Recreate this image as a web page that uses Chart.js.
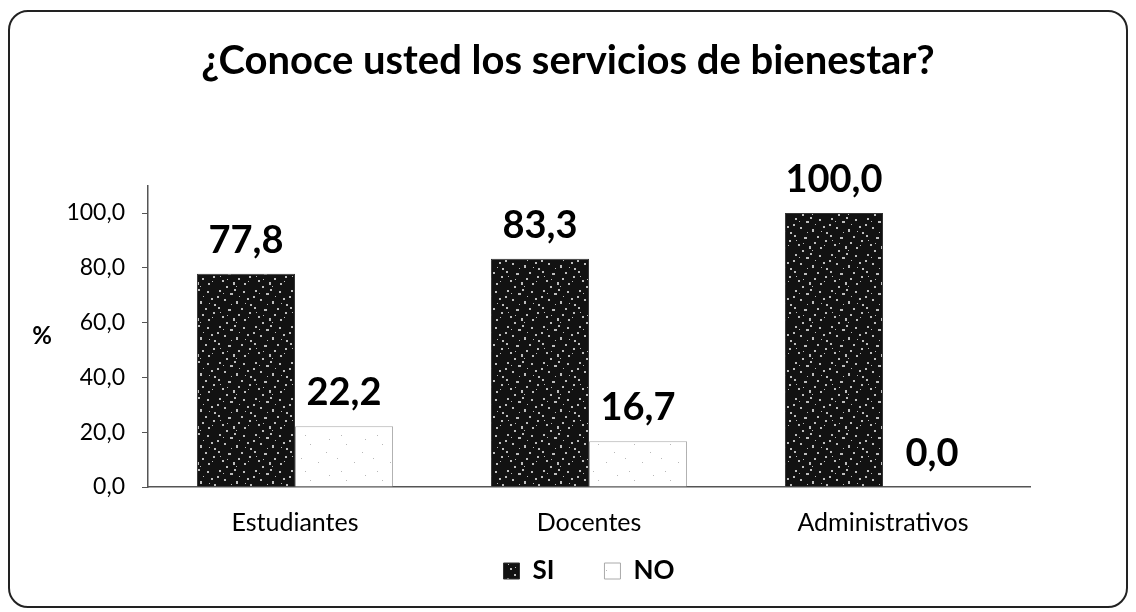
<!DOCTYPE html>
<html>
<head>
<meta charset="utf-8">
<script src="https://cdn.jsdelivr.net/npm/chart.js@4.4.1/dist/chart.umd.min.js"></script>
<style>
  html, body { margin: 0; padding: 0; background: #fff; }
  #wrap { position: relative; width: 1136px; height: 612px; }
  #marco {
    position: absolute; left: 8px; top: 10px; width: 1120px; height: 598px;
    border: 2px solid #222; border-radius: 20px; box-sizing: border-box;
  }
  #grafico { position: absolute; left: 0; top: 0; }
</style>
</head>
<body>
<div id="wrap">
  <div id="marco"></div>
  <canvas id="grafico" width="1136" height="612"></canvas>
</div>
<script>
// datos
const categorias = ['Estudiantes', 'Docentes', 'Administrativos'];
const valoresSI = [77.8, 83.3, 100.0];
const valoresNO = [22.2, 16.7, 0.0];
const ticksY = [0, 20, 40, 60, 80, 100];

const FUENTE = 'Lato, "Open Sans", sans-serif';

function fmt(v) {
  return v.toFixed(1).replace('.', ',');
}

// textura punteada de las barras (puntos fijos, solo estilo)
function crearTextura(fondo, punto, puntos) {
  const c = document.createElement('canvas');
  c.width = 36; c.height = 36;
  const ctx = c.getContext('2d');
  ctx.fillStyle = fondo;
  ctx.fillRect(0, 0, 36, 36);
  ctx.fillStyle = punto;
  puntos.forEach(p => ctx.fillRect(p[0], p[1], p[2] || 2, p[3] || 2));
  return ctx.createPattern(c, 'repeat');
}

const puntosOscuros = [
  [3, 2], [14, 5, 3, 2], [27, 3], [8, 11], [20, 13, 2, 3], [31, 10],
  [2, 19], [12, 21, 3, 2], [25, 20], [33, 24], [6, 28], [17, 30, 2, 3],
  [28, 31], [10, 34], [22, 26], [1, 8], [34, 16], [18, 1],
  [7, 5, 1, 1], [23, 8, 1, 1], [15, 16, 1, 1], [29, 15, 1, 1], [4, 24, 1, 1],
  [20, 34, 1, 1], [32, 29, 1, 1], [11, 27, 1, 1]
];
const puntosClaros = [[5, 7, 1, 1], [22, 12, 1, 1], [13, 26, 1, 1], [30, 30, 1, 1], [2, 20, 1, 1], [17, 3, 1, 1]];

const texturaSI = crearTextura('#121212', '#bdbdbd', puntosOscuros);
const texturaNO = crearTextura('#ffffff', '#b8b8b8', puntosClaros);

// etiquetas de valor encima de las barras y el "%" horizontal del eje
const etiquetasValor = {
  id: 'etiquetasValor',
  afterDatasetsDraw(chart) {
    const ctx = chart.ctx;
    const area = chart.chartArea;
    ctx.save();
    ctx.font = 'bold 38px ' + FUENTE;
    ctx.fillStyle = '#000';
    ctx.textAlign = 'center';
    ctx.textBaseline = 'alphabetic';
    chart.data.datasets.forEach((ds, i) => {
      chart.getDatasetMeta(i).data.forEach((bar, j) => {
        ctx.fillText(fmt(ds.data[j]), bar.x, bar.y - 21);
      });
    });
    ctx.font = 'bold 24px ' + FUENTE;
    ctx.textBaseline = 'middle';
    ctx.fillText('%', 42, (area.top + area.bottom) / 2);
    ctx.restore();
  }
};

new Chart(document.getElementById('grafico'), {
  type: 'bar',
  data: {
    labels: categorias,
    datasets: [
      {
        label: 'SI',
        data: valoresSI,
        backgroundColor: texturaSI,
        borderColor: '#333',
        borderWidth: 1
      },
      {
        label: 'NO',
        data: valoresNO,
        backgroundColor: texturaNO,
        borderColor: '#aaa',
        borderWidth: 1
      }
    ]
  },
  options: {
    responsive: false,
    animation: false,
    layout: { padding: { left: 0, right: 0, top: 0, bottom: 18 } },
    datasets: { bar: { categoryPercentage: 0.667, barPercentage: 1.0 } },
    plugins: {
      title: {
        display: true,
        text: '¿Conoce usted los servicios de bienestar?',
        color: '#000',
        font: { family: FUENTE, size: 40, weight: 'bold', lineHeight: 1.2 },
        padding: { top: 37, bottom: 100.6 }
      },
      legend: {
        position: 'bottom',
        fullSize: false,
        labels: {
          color: '#000',
          font: { family: FUENTE, size: 26, weight: 'bold' },
          boxWidth: 16,
          boxHeight: 16,
          padding: 50
        }
      },
      tooltip: { enabled: false }
    },
    scales: {
      x: {
        grid: { display: false, drawTicks: false },
        border: { display: true, color: '#555', width: 1.5 },
        // mirror evita que las etiquetas se recorten a la caja del eje (que es baja);
        // el padding negativo las baja bajo la línea del eje
        ticks: { color: '#000', font: { family: FUENTE, size: 25 }, mirror: true, padding: -51 },
        afterFit(s) { s.height = 21; }
      },
      y: {
        min: 0,
        max: 110,
        grid: { display: true, drawOnChartArea: false, tickLength: 6, color: '#555' },
        border: { display: true, color: '#555', width: 1.5 },
        ticks: {
          color: '#000',
          font: { family: FUENTE, size: 23 },
          padding: 17,
          callback: v => fmt(v)
        },
        afterBuildTicks(s) { s.ticks = ticksY.map(v => ({ value: v })); },
        afterFit(s) { s.width = 148; }
      },
      // eje vacío a la derecha: solo reserva el margen del área de trazado
      derecha: {
        position: 'right',
        grid: { display: false },
        border: { display: false },
        ticks: { display: false },
        afterFit(s) { s.width = 106; }
      }
    }
  },
  plugins: [etiquetasValor]
});
</script>
</body>
</html>
